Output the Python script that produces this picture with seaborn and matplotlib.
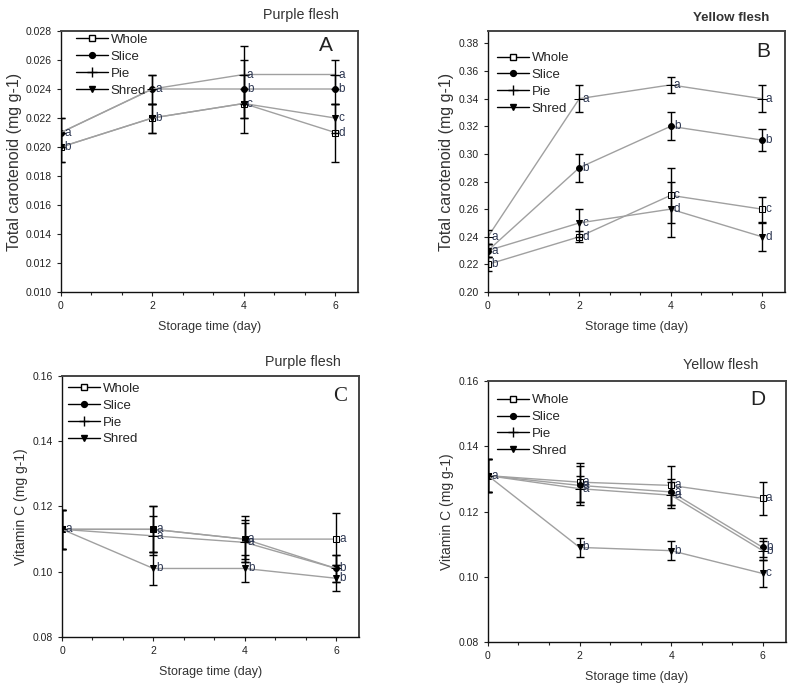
import matplotlib
matplotlib.use('Agg')
import matplotlib.pyplot as plt
from matplotlib.lines import Line2D
from matplotlib.ticker import AutoMinorLocator, FormatStrFormatter
import pandas as pd
import seaborn as sns

days = [0, 2, 4, 6]
tratamentos = ['Whole', 'Slice', 'Pie', 'Shred']

# carotenoide - polpa roxa (A)
car_roxa = {'Whole': [0.020, 0.022, 0.023, 0.021],
            'Slice': [0.021, 0.024, 0.024, 0.024],
            'Pie':   [0.021, 0.024, 0.025, 0.025],
            'Shred': [0.020, 0.022, 0.023, 0.022]}
car_roxa_err = {'Whole': [0.001, 0.001, 0.002, 0.002],
                'Slice': [0.001, 0.001, 0.002, 0.001],
                'Pie':   [0.001, 0.001, 0.002, 0.001],
                'Shred': [0.001, 0.001, 0.001, 0.001]}
car_roxa_let = {'Whole': ['b', 'b', 'c', 'd'],
                'Slice': ['a', 'a', 'b', 'b'],
                'Pie':   ['a', 'a', 'a', 'a'],
                'Shred': ['b', 'b', 'c', 'c']}

# carotenoide - polpa amarela (B)
car_amar = {'Whole': [0.22, 0.24, 0.27, 0.26],
            'Slice': [0.23, 0.29, 0.32, 0.31],
            'Pie':   [0.24, 0.34, 0.35, 0.34],
            'Shred': [0.23, 0.25, 0.26, 0.24]}
car_amar_err = {'Whole': [0.005, 0.004, 0.02, 0.009],
                'Slice': [0.005, 0.01, 0.01, 0.008],
                'Pie':   [0.005, 0.01, 0.006, 0.01],
                'Shred': [0.005, 0.01, 0.02, 0.01]}
car_amar_let = {'Whole': ['b', 'd', 'c', 'c'],
                'Slice': ['a', 'b', 'b', 'b'],
                'Pie':   ['a', 'a', 'a', 'a'],
                'Shred': ['a', 'c', 'd', 'd']}

# vitamina C - polpa roxa (C)
vit_roxa = {'Whole': [0.113, 0.113, 0.110, 0.110],
            'Slice': [0.113, 0.113, 0.110, 0.101],
            'Pie':   [0.113, 0.111, 0.109, 0.101],
            'Shred': [0.113, 0.101, 0.101, 0.098]}
vit_roxa_err = {'Whole': [0.006, 0.007, 0.007, 0.008],
                'Slice': [0.006, 0.007, 0.006, 0.004],
                'Pie':   [0.006, 0.006, 0.006, 0.004],
                'Shred': [0.006, 0.005, 0.004, 0.004]}
vit_roxa_let = {'Whole': ['a', 'a', 'a', 'a'],
                'Slice': ['a', 'a', 'a', 'b'],
                'Pie':   ['a', 'a', 'a', 'b'],
                'Shred': ['a', 'b', 'b', 'b']}

# vitamina C - polpa amarela (D)
vit_amar = {'Whole': [0.131, 0.129, 0.128, 0.124],
            'Slice': [0.131, 0.128, 0.126, 0.109],
            'Pie':   [0.131, 0.127, 0.125, 0.108],
            'Shred': [0.131, 0.109, 0.108, 0.101]}
vit_amar_err = {'Whole': [0.005, 0.006, 0.006, 0.005],
                'Slice': [0.005, 0.006, 0.004, 0.003],
                'Pie':   [0.005, 0.004, 0.004, 0.003],
                'Shred': [0.005, 0.003, 0.003, 0.004]}
vit_amar_let = {'Whole': ['a', 'a', 'a', 'a'],
                'Slice': ['a', 'a', 'a', 'b'],
                'Pie':   ['a', 'a', 'a', 'b'],
                'Shred': ['a', 'b', 'b', 'c']}

marcadores = {'Whole': dict(marker='s', markerfacecolor='white', markeredgecolor='black', markersize=4.2),
              'Slice': dict(marker='o', markerfacecolor='black', markeredgecolor='black', markersize=4.2),
              'Pie':   dict(marker='+', markerfacecolor='black', markeredgecolor='black', markersize=6.5),
              'Shred': dict(marker='v', markerfacecolor='black', markeredgecolor='black', markersize=4.5)}

sns.set_style('ticks')
plt.rcParams['font.family'] = ['Liberation Sans', 'DejaVu Sans']
plt.rcParams['xtick.direction'] = 'out'
plt.rcParams['ytick.direction'] = 'out'

fig = plt.figure(figsize=(7.96, 6.89), dpi=100)

paineis = [
    dict(pos=[0.0766, 0.5762, 0.373, 0.3788], med=car_roxa, err=car_roxa_err, let=car_roxa_let,
         ylim=(0.010, 0.028), step=0.002, fmt='%.3f', ylabel='Total carotenoid (mg g-1)', ysize=11.5,
         title='Purple flesh', tpos=(0.378, 0.978), tw='normal', tsize=10.3,
         letra='A', lfam='Liberation Sans', lpos=(0.916, 0.946), leg=(0.02, 1.025)),
    dict(pos=[0.613, 0.5762, 0.373, 0.3788], med=car_amar, err=car_amar_err, let=car_amar_let,
         ylim=(0.20, 0.389), step=0.02, fmt='%.2f', ylabel='Total carotenoid (mg g-1)', ysize=11.5,
         title='Yellow flesh', tpos=(0.918, 0.974), tw='bold', tsize=9.6,
         letra='B', lfam='Liberation Sans', lpos=(0.95, 0.923), leg=(0.0, 0.955)),
    dict(pos=[0.0779, 0.0755, 0.373, 0.3788], med=vit_roxa, err=vit_roxa_err, let=vit_roxa_let,
         ylim=(0.08, 0.16), step=0.02, fmt='%.2f', ylabel='Vitamin C (mg g-1)', ysize=10,
         title='Purple flesh', tpos=(0.381, 0.474), tw='normal', tsize=10.3,
         letra='C', lfam='Liberation Serif', lpos=(0.96, 0.92), leg=(-0.01, 1.01)),
    dict(pos=[0.613, 0.0682, 0.374, 0.3788], med=vit_amar, err=vit_amar_err, let=vit_amar_let,
         ylim=(0.08, 0.16), step=0.02, fmt='%.2f', ylabel='Vitamin C (mg g-1)', ysize=10,
         title='Yellow flesh', tpos=(0.906, 0.470), tw='normal', tsize=10.3,
         letra='D', lfam='Liberation Sans', lpos=(0.933, 0.93), leg=(0.0, 0.985)),
]

for p in paineis:
    ax = fig.add_axes(p['pos'])
    letras = set()
    for t in tratamentos:
        df = pd.DataFrame({'day': days, 'val': p['med'][t]})
        sns.lineplot(data=df, x='day', y='val', ax=ax, color='#a0a0a0', linewidth=1,
                     zorder=2, **marcadores[t])
        ax.errorbar(days, p['med'][t], yerr=p['err'][t], fmt='none', ecolor='black',
                    elinewidth=1, capsize=3, capthick=1, zorder=3)
        for d, v, l in zip(days, p['med'][t], p['let'][t]):
            letras.add((d, v, l))
    for d, v, l in sorted(letras):
        ax.text(d + 0.07, v, l, fontsize=8.5, color='#2b3550', va='center', ha='left', zorder=4)

    ax.set_xlim(0, 6.5)
    ax.set_ylim(*p['ylim'])
    ax.set_xticks(days)
    ymin, ymax = p['ylim']
    n = int(round((ymax - ymin) / p['step']))
    ax.set_yticks([ymin + i * p['step'] for i in range(n + 1)])
    ax.yaxis.set_major_formatter(FormatStrFormatter(p['fmt']))
    ax.xaxis.set_minor_locator(AutoMinorLocator(3))
    ax.tick_params(axis='both', which='major', labelsize=7.5, length=3, width=0.8, colors='#222222')
    ax.tick_params(axis='x', which='minor', length=2, width=0.8)
    for s in ['left', 'bottom']:
        ax.spines[s].set_color('#111111')
        ax.spines[s].set_linewidth(1)
    for s in ['top', 'right']:
        ax.spines[s].set_color('#444444')
        ax.spines[s].set_linewidth(1.4)

    ax.set_xlabel('Storage time (day)', fontsize=9, color='#333333', labelpad=7)
    ax.set_ylabel(p['ylabel'], fontsize=p['ysize'], color='#333333', labelpad=3)

    ax.text(p['lpos'][0], p['lpos'][1], p['letra'], transform=ax.transAxes, ha='right', va='center',
            fontsize=15, family=p['lfam'], color='#222222')
    fig.text(p['tpos'][0], p['tpos'][1], p['title'], ha='center', va='center',
             fontsize=p['tsize'], fontweight=p['tw'], color='#333333')

    handles = [Line2D([0], [0], color='black', linewidth=1, **marcadores[t]) for t in tratamentos]
    ax.legend(handles, tratamentos, loc='upper left', bbox_to_anchor=p['leg'], frameon=False,
              fontsize=9.5, handlelength=2.4, handletextpad=0.2, labelspacing=0.35,
              borderaxespad=0.3)

fig.savefig('out.png', dpi=100)
